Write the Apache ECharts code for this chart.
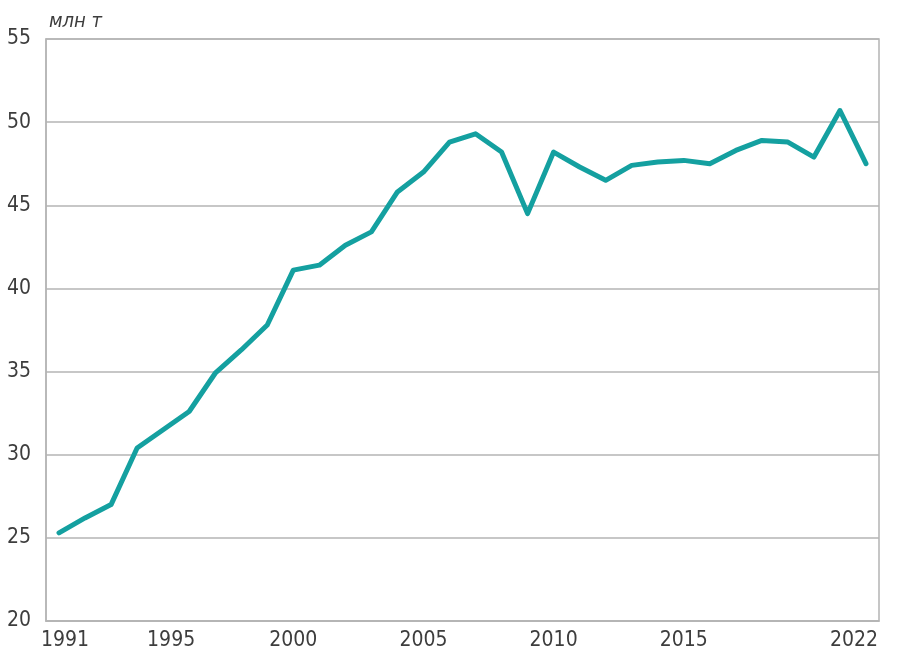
<!DOCTYPE html>
<html>
<head>
<meta charset="utf-8">
<script src="https://cdn.jsdelivr.net/npm/echarts@6/dist/echarts.min.js"></script>
<style>
  html, body { margin: 0; padding: 0; background: #fff; }
  #chart { width: 900px; height: 669px; }
</style>
</head>
<body>
<div id="chart"></div>
<script>
// years 1991..2022, one point per year
var years = [
  "1991", "1992", "1993", "1994", "1995", "1996", "1997", "1998", "1999", "2000",
  "2001", "2002", "2003", "2004", "2005", "2006", "2007", "2008", "2009", "2010",
  "2011", "2012", "2013", "2014", "2015", "2016", "2017", "2018", "2019", "2020",
  "2021", "2022"
];
// values, mln t
var output = [
  25.3, 26.2, 27.0, 30.4, 31.5, 32.6, 34.9, 36.3, 37.8, 41.1,
  41.4, 42.6, 43.4, 45.8, 47.0, 48.8, 49.3, 48.2, 44.5, 48.2,
  47.3, 46.5, 47.4, 47.6, 47.7, 47.5, 48.3, 48.9, 48.8, 47.9,
  50.7, 47.5
];
// years that get a label on the x axis
var labelYears = ["1991", "1995", "2000", "2005", "2010", "2015", "2022"];
var unitLabel = "млн т";

var FONT = "'Liberation Sans Narrow', 'DejaVu Sans Condensed', sans-serif";
var TEXT = "#3d3d3d";
var GRID = "#b4b4b4";
var SIZE = 21;

var chart = echarts.init(document.getElementById("chart"), null, { renderer: "canvas" });

chart.setOption({
  backgroundColor: "#fff",
  animation: false,
  title: {
    text: unitLabel,
    left: 44,
    top: 7,
    textStyle: { fontFamily: FONT, fontStyle: "italic", fontWeight: "normal", fontSize: 20, color: TEXT }
  },
  grid: {
    left: 46, right: 21, top: 39, bottom: 48,
    show: true, borderColor: GRID, borderWidth: 1.5
  },
  xAxis: {
    type: "category",
    data: years,
    boundaryGap: true,
    axisLine: { show: true, lineStyle: { color: GRID, width: 1.5 } },
    axisTick: { show: false },
    axisLabel: {
      interval: function (idx, val) { return labelYears.indexOf(val) >= 0; },
      formatter: function (val) {
        if (val === "1991") return "{first|" + val + "}";
        if (val === "1995") return "{mid|" + val + "}";
        if (val === "2022") return "{last|" + val + "}";
        return val;
      },
      rich: {
        first: { fontFamily: FONT, fontSize: SIZE, color: TEXT, padding: [0, 0, 0, 12] },
        mid: { fontFamily: FONT, fontSize: SIZE, color: TEXT, padding: [0, 0, 0, 16] },
        last: { fontFamily: FONT, fontSize: SIZE, color: TEXT, padding: [0, 24, 0, 0] }
      },
      margin: 9,
      fontFamily: FONT,
      fontSize: SIZE,
      color: TEXT
    },
    splitLine: { show: false }
  },
  yAxis: {
    type: "value",
    min: 20,
    max: 55,
    interval: 5,
    axisLine: { show: true, lineStyle: { color: GRID, width: 1.5 } },
    axisTick: { show: false },
    axisLabel: { margin: 15, fontFamily: FONT, fontSize: SIZE, color: TEXT },
    splitLine: { show: true, lineStyle: { color: GRID, width: 1.5 } }
  },
  series: [{
    type: "line",
    data: output,
    symbol: "none",
    lineStyle: { color: "#14a0a0", width: 5, join: "round", cap: "round" }
  }]
});
</script>
</body>
</html>
